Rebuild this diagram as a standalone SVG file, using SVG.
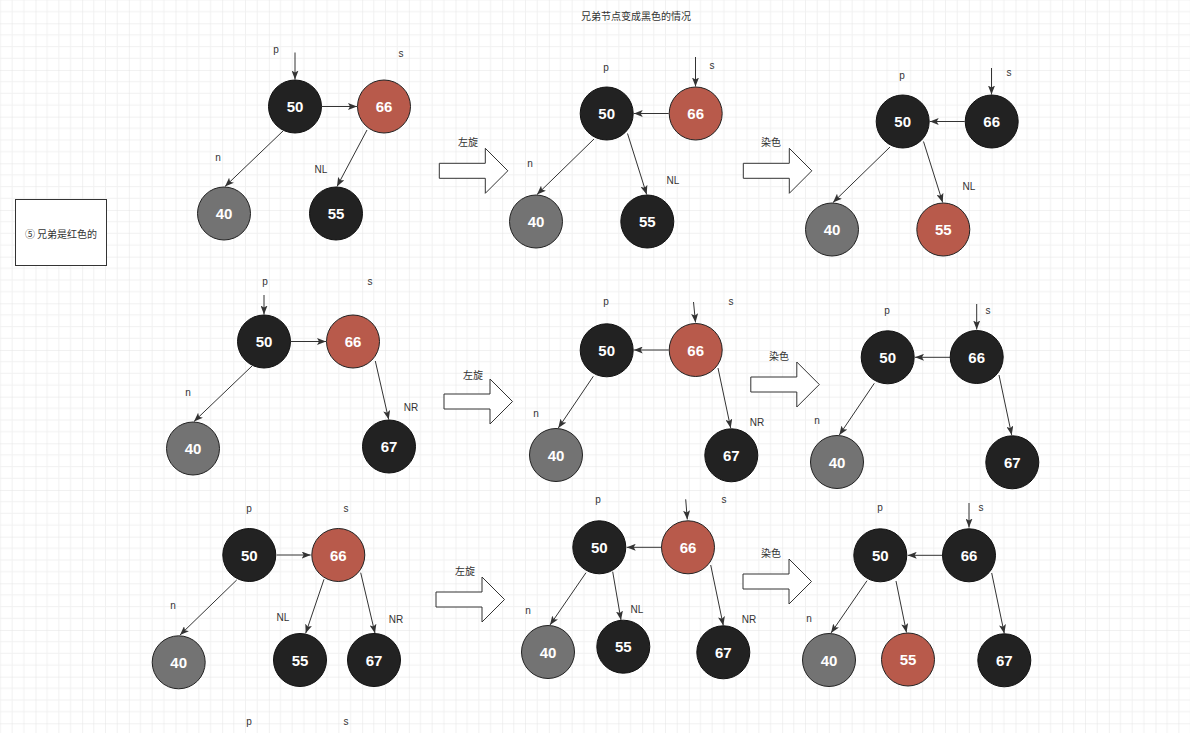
<svg xmlns="http://www.w3.org/2000/svg" xmlns:xlink="http://www.w3.org/1999/xlink" width="1190" height="733" viewBox="0 0 1190 733">
<style>
.lbl{font-family:"Liberation Sans",Arial,sans-serif;font-size:10px;fill:#333;text-anchor:middle;dominant-baseline:central}
.cjk{font-family:"Liberation Sans","Noto Sans CJK SC",sans-serif;font-size:10px;fill:#333;text-anchor:middle;dominant-baseline:central}
.cjk2{font-family:"Noto Sans CJK SC",sans-serif;font-size:10px;fill:#333;text-anchor:middle;dominant-baseline:central}
.num{font-family:"Liberation Sans",Arial,sans-serif;font-size:15px;font-weight:bold;fill:#fff;text-anchor:middle;dominant-baseline:central}
.b{fill:#222;stroke:#111;stroke-width:1}
.r{fill:#b85a4b;stroke:#222;stroke-width:1}
.g{fill:#737373;stroke:#222;stroke-width:1}
.e{stroke:#333;stroke-width:1;fill:none;marker-end:url(#ah)}
.blk{fill:#fff;stroke:#333;stroke-width:1}
</style>
<defs>
<pattern id="grid" patternUnits="userSpaceOnUse" x="35.5" y="23.3" width="46.667" height="46.667">
<path d="M11.667 0V46.667M23.333 0V46.667M35 0V46.667M0 11.667H46.667M0 23.333H46.667M0 35H46.667" stroke="#f1f1f1" stroke-width="1" fill="none"/>
<path d="M0 0V46.667M0 0H46.667" stroke="#e4e4e4" stroke-width="1" fill="none"/>
</pattern>
<marker id="ah" viewBox="0 0 9 7" refX="9" refY="3.5" markerWidth="9" markerHeight="7" markerUnits="userSpaceOnUse" orient="auto">
<path d="M0 0L9 3.5L0 7L2 3.5Z" fill="#333"/>
</marker>
<path id="barrow" d="M0 -7.5H46V-22.5L68.5 0L46 22.5V7.5H0Z"/>
</defs>
<rect width="1190" height="733" fill="#fff"/>
<rect width="1190" height="733" fill="url(#grid)"/>

<text class="cjk" x="636" y="16">兄弟节点变成黑色的情况</text>

<g id="case-box">
<rect x="15.5" y="199.5" width="91" height="66" fill="#fff" stroke="#333" stroke-width="1"/>
<text class="cjk2" x="61" y="233">⑤ 兄弟是红色的</text>
</g>

<g id="connectors">
<line class="e" x1="295" y1="52.5" x2="295" y2="79.5"/>
<line class="e" x1="322" y1="106.5" x2="357" y2="106.5"/>
<line class="e" x1="283" y1="131" x2="225" y2="186.5"/>
<line class="e" x1="367" y1="130" x2="337" y2="186.5"/>
<line class="e" x1="695.5" y1="57" x2="695.5" y2="86.5"/>
<line class="e" x1="668.7" y1="113.5" x2="633.7" y2="113.5"/>
<line class="e" x1="594" y1="139" x2="537" y2="194.5"/>
<line class="e" x1="627.5" y1="133.5" x2="646.7" y2="194.5"/>
<line class="e" x1="991.5" y1="68" x2="991.5" y2="94.5"/>
<line class="e" x1="964.7" y1="121.5" x2="929.7" y2="121.5"/>
<line class="e" x1="890" y1="147" x2="833" y2="202.5"/>
<line class="e" x1="923.5" y1="141.5" x2="942.7" y2="202.5"/>
<line class="e" x1="264" y1="295" x2="264" y2="314.5"/>
<line class="e" x1="291" y1="341.5" x2="326" y2="341.5"/>
<line class="e" x1="252" y1="366" x2="194" y2="421.5"/>
<line class="e" x1="375.3" y1="361" x2="388.7" y2="419.5"/>
<line class="e" x1="693.5" y1="302" x2="695.5" y2="322.5"/>
<line class="e" x1="668.7" y1="350" x2="633.7" y2="350"/>
<line class="e" x1="593.3" y1="376.3" x2="558.3" y2="428"/>
<line class="e" x1="718" y1="368" x2="730.7" y2="428"/>
<line class="e" x1="976.7" y1="304" x2="976.7" y2="329.5"/>
<line class="e" x1="950" y1="357.3" x2="915" y2="357.3"/>
<line class="e" x1="874.3" y1="383.3" x2="839.3" y2="435"/>
<line class="e" x1="999" y1="375" x2="1011.7" y2="435"/>
<line class="e" x1="276.7" y1="555" x2="310.7" y2="555"/>
<line class="e" x1="236.7" y1="580" x2="180" y2="635"/>
<line class="e" x1="324" y1="579.3" x2="305.7" y2="633.3"/>
<line class="e" x1="360.7" y1="572.7" x2="375" y2="633.3"/>
<line class="e" x1="685.7" y1="499.3" x2="687.3" y2="519.5"/>
<line class="e" x1="661.7" y1="547.3" x2="626.7" y2="547.3"/>
<line class="e" x1="586" y1="572.7" x2="550" y2="625"/>
<line class="e" x1="612.7" y1="571.7" x2="621" y2="620"/>
<line class="e" x1="710.7" y1="565" x2="723.3" y2="625.5"/>
<line class="e" x1="969" y1="503" x2="969" y2="527.5"/>
<line class="e" x1="942.7" y1="555.3" x2="907.7" y2="555.3"/>
<line class="e" x1="867" y1="580.7" x2="831" y2="633"/>
<line class="e" x1="896" y1="581" x2="906.5" y2="632.5"/>
<line class="e" x1="991.7" y1="573" x2="1004.3" y2="633.5"/>
</g>

<g id="block-arrows">
<use href="#barrow" xlink:href="#barrow" class="blk" x="439.3" y="170.8"/>
<text class="cjk" x="468" y="142">左旋</text>
<use href="#barrow" xlink:href="#barrow" class="blk" x="743.3" y="170.8"/>
<text class="cjk" x="771" y="142">染色</text>
<use href="#barrow" xlink:href="#barrow" class="blk" x="444" y="401.5"/>
<text class="cjk" x="473" y="375">左旋</text>
<use href="#barrow" xlink:href="#barrow" class="blk" x="750.8" y="384.5"/>
<text class="cjk" x="779" y="356">染色</text>
<use href="#barrow" xlink:href="#barrow" class="blk" x="436" y="599.5"/>
<text class="cjk" x="465" y="571">左旋</text>
<use href="#barrow" xlink:href="#barrow" class="blk" x="743" y="581.5"/>
<text class="cjk" x="771" y="553">染色</text>
</g>

<g id="labels">
<text class="lbl" x="276" y="49">p</text><text class="lbl" x="401" y="53">s</text><text class="lbl" x="218" y="157">n</text><text class="lbl" x="321" y="169">NL</text>
<text class="lbl" x="606" y="67">p</text><text class="lbl" x="712" y="65">s</text><text class="lbl" x="530" y="163">n</text><text class="lbl" x="673" y="180">NL</text>
<text class="lbl" x="902" y="75">p</text><text class="lbl" x="1009" y="72">s</text><text class="lbl" x="969" y="186">NL</text>
<text class="lbl" x="265" y="281">p</text><text class="lbl" x="370" y="281">s</text><text class="lbl" x="188" y="392">n</text><text class="lbl" x="411" y="407">NR</text>
<text class="lbl" x="606" y="301">p</text><text class="lbl" x="731" y="301">s</text><text class="lbl" x="536" y="413">n</text><text class="lbl" x="757" y="422">NR</text>
<text class="lbl" x="887" y="310">p</text><text class="lbl" x="988" y="310">s</text><text class="lbl" x="817" y="420">n</text>
<text class="lbl" x="249" y="508">p</text><text class="lbl" x="346" y="508">s</text><text class="lbl" x="173" y="605">n</text><text class="lbl" x="283" y="617.5">NL</text><text class="lbl" x="396" y="619">NR</text>
<text class="lbl" x="598" y="499">p</text><text class="lbl" x="724" y="499">s</text><text class="lbl" x="528" y="610">n</text><text class="lbl" x="637" y="609">NL</text><text class="lbl" x="749" y="619">NR</text>
<text class="lbl" x="880" y="507">p</text><text class="lbl" x="981" y="507">s</text><text class="lbl" x="809" y="618">n</text>
<text class="lbl" x="249" y="721">p</text><text class="lbl" x="346" y="721">s</text>
</g>

<g id="r1a-50"><circle class="b" cx="295" cy="106.5" r="26.5"/><text class="num" x="295" y="106.5">50</text></g>
<g id="r1a-66"><circle class="r" cx="384" cy="106.5" r="26.5"/><text class="num" x="384" y="106.5">66</text></g>
<g id="r1a-40"><circle class="g" cx="224" cy="213.5" r="26.5"/><text class="num" x="224" y="213.5">40</text></g>
<g id="r1a-55"><circle class="b" cx="336" cy="213.5" r="26.5"/><text class="num" x="336" y="213.5">55</text></g>
<g id="r1b-50"><circle class="b" cx="606.7" cy="113.5" r="26.5"/><text class="num" x="606.7" y="113.5">50</text></g>
<g id="r1b-66"><circle class="r" cx="695.7" cy="113.5" r="26.5"/><text class="num" x="695.7" y="113.5">66</text></g>
<g id="r1b-40"><circle class="g" cx="536" cy="221.5" r="26.5"/><text class="num" x="536" y="221.5">40</text></g>
<g id="r1b-55"><circle class="b" cx="647.3" cy="221.5" r="26.5"/><text class="num" x="647.3" y="221.5">55</text></g>
<g id="r1c-50"><circle class="b" cx="902.7" cy="121.5" r="26.5"/><text class="num" x="902.7" y="121.5">50</text></g>
<g id="r1c-66"><circle class="b" cx="991.7" cy="121.5" r="26.5"/><text class="num" x="991.7" y="121.5">66</text></g>
<g id="r1c-40"><circle class="g" cx="832" cy="229.5" r="26.5"/><text class="num" x="832" y="229.5">40</text></g>
<g id="r1c-55"><circle class="r" cx="943.3" cy="229.5" r="26.5"/><text class="num" x="943.3" y="229.5">55</text></g>
<g id="r2a-50"><circle class="b" cx="264" cy="341.5" r="26.5"/><text class="num" x="264" y="341.5">50</text></g>
<g id="r2a-66"><circle class="r" cx="353" cy="341.5" r="26.5"/><text class="num" x="353" y="341.5">66</text></g>
<g id="r2a-40"><circle class="g" cx="193" cy="448.5" r="26.5"/><text class="num" x="193" y="448.5">40</text></g>
<g id="r2a-67"><circle class="b" cx="389" cy="446.5" r="26.5"/><text class="num" x="389" y="446.5">67</text></g>
<g id="r2b-50"><circle class="b" cx="606.7" cy="350.3" r="26.5"/><text class="num" x="606.7" y="350.3">50</text></g>
<g id="r2b-66"><circle class="r" cx="695.7" cy="350" r="26.5"/><text class="num" x="695.7" y="350">66</text></g>
<g id="r2b-40"><circle class="g" cx="556" cy="455" r="26.5"/><text class="num" x="556" y="455">40</text></g>
<g id="r2b-67"><circle class="b" cx="731.3" cy="455.3" r="26.5"/><text class="num" x="731.3" y="455.3">67</text></g>
<g id="r2c-50"><circle class="b" cx="887.7" cy="357.3" r="26.5"/><text class="num" x="887.7" y="357.3">50</text></g>
<g id="r2c-66"><circle class="b" cx="976.7" cy="357" r="26.5"/><text class="num" x="976.7" y="357">66</text></g>
<g id="r2c-40"><circle class="g" cx="837" cy="462" r="26.5"/><text class="num" x="837" y="462">40</text></g>
<g id="r2c-67"><circle class="b" cx="1012.3" cy="462.3" r="26.5"/><text class="num" x="1012.3" y="462.3">67</text></g>
<g id="r3a-50"><circle class="b" cx="249.3" cy="555" r="26.5"/><text class="num" x="249.3" y="555">50</text></g>
<g id="r3a-66"><circle class="r" cx="338.3" cy="555" r="26.5"/><text class="num" x="338.3" y="555">66</text></g>
<g id="r3a-40"><circle class="g" cx="178.7" cy="662.3" r="26.5"/><text class="num" x="178.7" y="662.3">40</text></g>
<g id="r3a-55"><circle class="b" cx="300" cy="660" r="26.5"/><text class="num" x="300" y="660">55</text></g>
<g id="r3a-67"><circle class="b" cx="374" cy="660" r="26.5"/><text class="num" x="374" y="660">67</text></g>
<g id="r3b-50"><circle class="b" cx="599.3" cy="547.3" r="26.5"/><text class="num" x="599.3" y="547.3">50</text></g>
<g id="r3b-66"><circle class="r" cx="688" cy="547.3" r="26.5"/><text class="num" x="688" y="547.3">66</text></g>
<g id="r3b-40"><circle class="g" cx="548" cy="652" r="26.5"/><text class="num" x="548" y="652">40</text></g>
<g id="r3b-55"><circle class="b" cx="623.3" cy="646.7" r="26.5"/><text class="num" x="623.3" y="646.7">55</text></g>
<g id="r3b-67"><circle class="b" cx="723.3" cy="652.3" r="26.5"/><text class="num" x="723.3" y="652.3">67</text></g>
<g id="r3c-50"><circle class="b" cx="880.3" cy="555.3" r="26.5"/><text class="num" x="880.3" y="555.3">50</text></g>
<g id="r3c-66"><circle class="b" cx="969" cy="555.3" r="26.5"/><text class="num" x="969" y="555.3">66</text></g>
<g id="r3c-40"><circle class="g" cx="829" cy="660" r="26.5"/><text class="num" x="829" y="660">40</text></g>
<g id="r3c-55"><circle class="r" cx="908" cy="659.5" r="26.5"/><text class="num" x="908" y="659.5">55</text></g>
<g id="r3c-67"><circle class="b" cx="1004.3" cy="660.3" r="26.5"/><text class="num" x="1004.3" y="660.3">67</text></g>
</svg>
